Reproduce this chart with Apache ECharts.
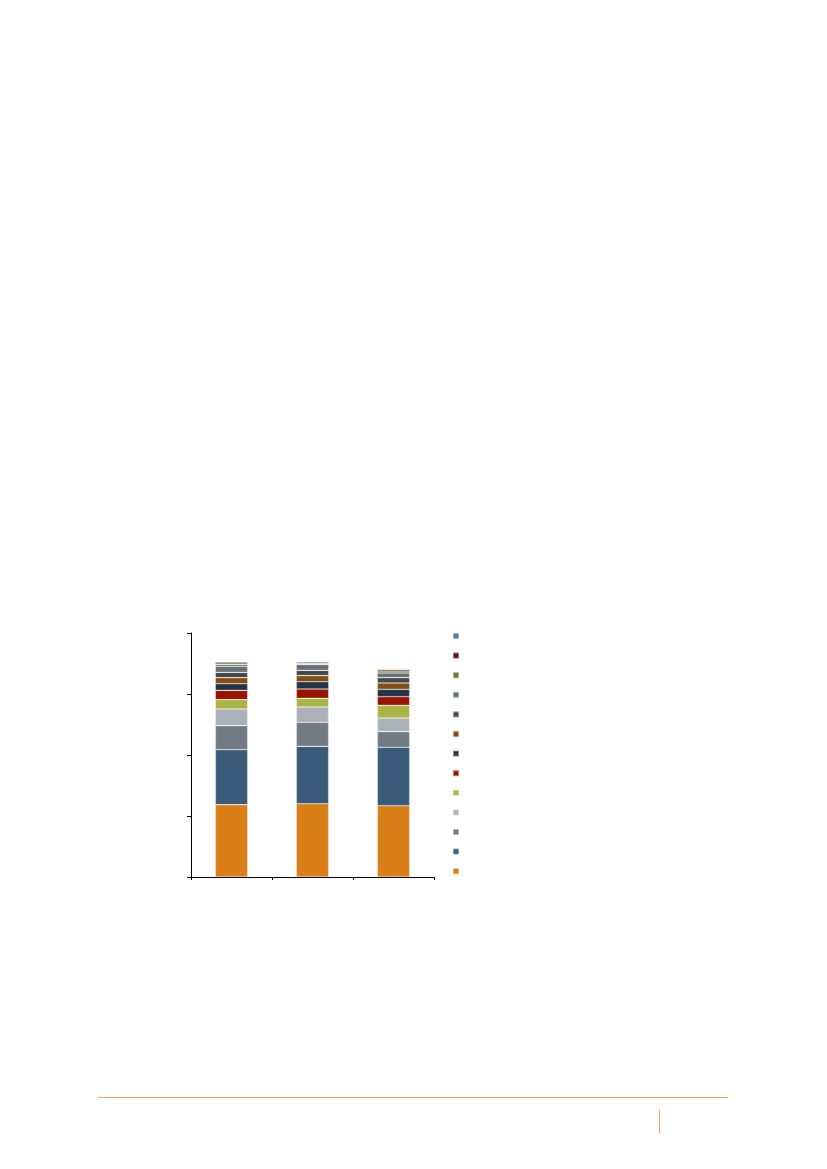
<!DOCTYPE html>
<html>
<head>
<meta charset="utf-8">
<script src="https://cdn.jsdelivr.net/npm/echarts@6/dist/echarts.min.js"></script>
<style>
  html, body { margin: 0; padding: 0; background: #fff; }
  #page { position: relative; width: 827px; height: 1169px; overflow: hidden; }
  #chart { position: absolute; left: 0; top: 0; width: 827px; height: 1169px; }
  .rule { position: absolute; background: #e8a95a; }
</style>
</head>
<body>
<div id="page">
  <div id="chart"></div>
  <div class="rule" style="left:98px; top:1097px; width:630px; height:1px;"></div>
  <div class="rule" style="left:659px; top:1110px; width:1px; height:23px;"></div>
</div>
<script>
// categories (labels not printed in the reference)
const categories = ['A', 'B', 'C'];

// stacked segments, bottom to top
const seriesNames = ['S1', 'S2', 'S3', 'S4', 'S5', 'S6', 'S7', 'S8', 'S9', 'S10', 'S11', 'S12', 'S13'];
const seriesColors = ['#d97f17', '#3a5a7a', '#737b82', '#aab1b8', '#a8b545', '#9a1300', '#22344a',
                      '#854c12', '#45494d', '#677076', '#6b7530', '#5a0a00', '#4f79aa'];
const s1 = [118.6, 120.2, 116.9];
const s2 = [90.1, 94.0, 95.7];
const s3 = [39.4, 39.4, 25.7];
const s4 = [27.3, 25.1, 22.4];
const s5 = [15.3, 14.2, 20.7];
const s6 = [15.3, 15.3, 14.2];
const s7 = [10.9, 12.0, 12.1];
const s8 = [9.9, 9.9, 10.3];
const s9 = [8.7, 8.7, 8.8];
const s10 = [9.9, 9.8, 7.6];
const s11 = [3.2, 1.1, 3.3];
const s12 = [2.2, 1.1, 2.2];
const s13 = [2.2, 2.2, 1.6];
const seriesValues = [s1, s2, s3, s4, s5, s6, s7, s8, s9, s10, s11, s12, s13];

const chart = echarts.init(document.getElementById('chart'));

const series = seriesNames.map((name, i) => ({
    name: name,
    type: 'bar',
    stack: 'total',
    barWidth: '40%',
    data: seriesValues[i],
    itemStyle: {
        color: seriesColors[i],
        borderColor: 'rgba(255,255,255,0.45)',
        borderWidth: 0.6
    },
    emphasis: { disabled: true }
}));

chart.setOption({
    backgroundColor: '#fff',
    animation: false,
    grid: { left: 191, top: 633, width: 243, height: 244 },
    legend: {
        orient: 'vertical',
        left: 452,
        top: 632,
        padding: 0,
        itemWidth: 6,
        itemHeight: 6,
        itemGap: 11.6,
        icon: 'rect',
        data: seriesNames.slice().reverse(),
        formatter: () => '',
        selectedMode: false
    },
    xAxis: {
        type: 'category',
        data: categories,
        axisLine: { lineStyle: { color: '#000', width: 1 } },
        axisTick: { show: true, length: 3, lineStyle: { color: '#000' } },
        axisLabel: { show: false }
    },
    yAxis: {
        type: 'value',
        min: 0,
        max: 400,
        interval: 100,
        axisLine: { show: true, lineStyle: { color: '#000', width: 1 } },
        axisTick: { show: true, length: 4, lineStyle: { color: '#000' } },
        axisLabel: { show: false },
        splitLine: { show: false }
    },
    series: series
});
</script>
</body>
</html>
